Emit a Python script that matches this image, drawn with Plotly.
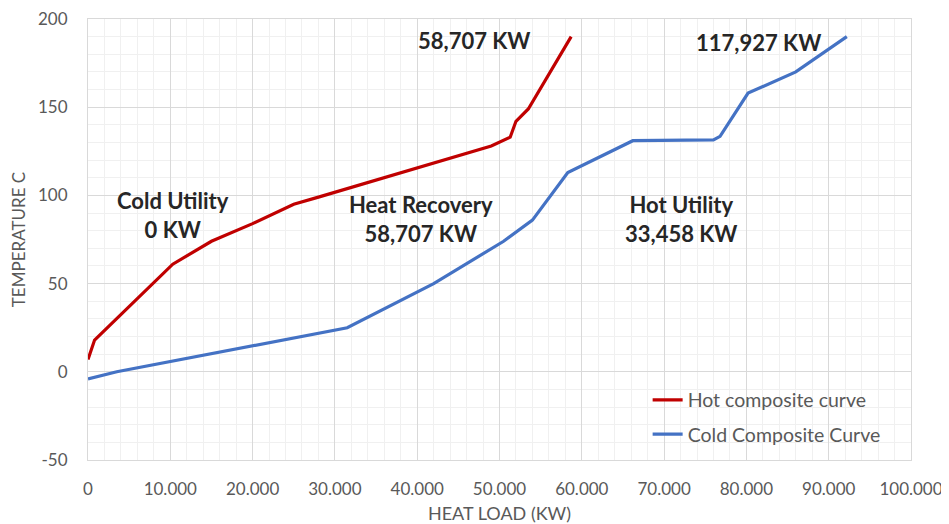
import plotly.graph_objects as go

# Hot composite curve
hot_load = [0, 800, 10300, 15000, 20000, 25000, 28000, 36000, 44000, 49000, 51300, 52000, 53500, 58707]
hot_temp = [7, 18, 61, 74, 84, 95, 99, 110, 121, 128, 133, 142, 149, 190]

# Cold composite curve
cold_load = [0, 3500, 31500, 42000, 50500, 54000, 58300, 66200, 76000, 76800, 80200, 86000, 92200]
cold_temp = [-4, 0, 25, 50, 74, 86, 113, 131, 131.5, 133.5, 158, 170, 190]

x_ticks = [0, 10000, 20000, 30000, 40000, 50000, 60000, 70000, 80000, 90000, 100000]
x_tick_labels = ["0", "10.000", "20.000", "30.000", "40.000", "50.000", "60.000",
                 "70.000", "80.000", "90.000", "100.000"]
y_ticks = [-50, 0, 50, 100, 150, 200]
y_tick_labels = ["-50", "0", "50", "100", "150", "200"]

labels_text = ["Cold Utility<br>0 KW", "Heat Recovery<br>58,707 KW", "Hot Utility<br>33,458 KW",
               "58,707 KW", "117,927 KW"]
labels_x = [10330, 40460, 72100, 47000, 81500]
labels_y = [89, 86.5, 86.5, 188, 186.5]

FONT = "Lato, 'Open Sans', sans-serif"
GREY = "#595959"

fig = go.Figure()
fig.add_trace(go.Scatter(x=hot_load, y=hot_temp, mode="lines", name="Hot composite curve",
                         legendgroup="hot",
                         line=dict(color="#C00000", width=3.2)))
fig.add_trace(go.Scatter(x=cold_load, y=cold_temp, mode="lines", name="Cold Composite Curve",
                         legendgroup="cold",
                         line=dict(color="#4472C4", width=3.2)))

for t, x, y in zip(labels_text, labels_x, labels_y):
    fig.add_annotation(x=x, y=y, text="<b>" + t + "</b>", showarrow=False,
                       font=dict(family=FONT, size=22, color="#262626"), align="center")

fig.update_layout(
    width=941, height=516,
    margin=dict(l=80, r=38, t=11, b=64),
    paper_bgcolor="white", plot_bgcolor="white",
    font=dict(family=FONT, color=GREY),
    legend=dict(x=0.68, y=0.18, xanchor="left", yanchor="top",
                bgcolor="rgba(0,0,0,0)", font=dict(size=19.5, color=GREY),
                tracegroupgap=6),
    showlegend=True,
)
fig.update_xaxes(range=[0, 100000], tickvals=x_ticks, ticktext=x_tick_labels,
                 tickfont=dict(size=17, color=GREY), showgrid=True, gridcolor="#d9d9d9",
                 gridwidth=1, zeroline=False, showline=True, linecolor="#d9d9d9", mirror=True,
                 ticks="", ticklabelstandoff=14, automargin=False, ticklabeloverflow="allow",
                 minor=dict(dtick=2000, showgrid=True, gridcolor="#f0f0f0", gridwidth=1),
                 title=dict(text="HEAT LOAD (KW)", font=dict(size=18, color=GREY)))
fig.update_yaxes(range=[-50, 200], tickvals=y_ticks, ticktext=y_tick_labels,
                 tickfont=dict(size=17, color=GREY), showgrid=True, gridcolor="#d9d9d9",
                 gridwidth=1, zeroline=False, showline=True, linecolor="#d9d9d9", mirror=True,
                 ticks="", ticklabelstandoff=16, automargin=False, ticklabeloverflow="allow",
                 minor=dict(dtick=10, showgrid=True, gridcolor="#f0f0f0", gridwidth=1),
                 title=dict(text="TEMPERATURE C", font=dict(size=17, color=GREY)))

fig.write_html("out.html")
